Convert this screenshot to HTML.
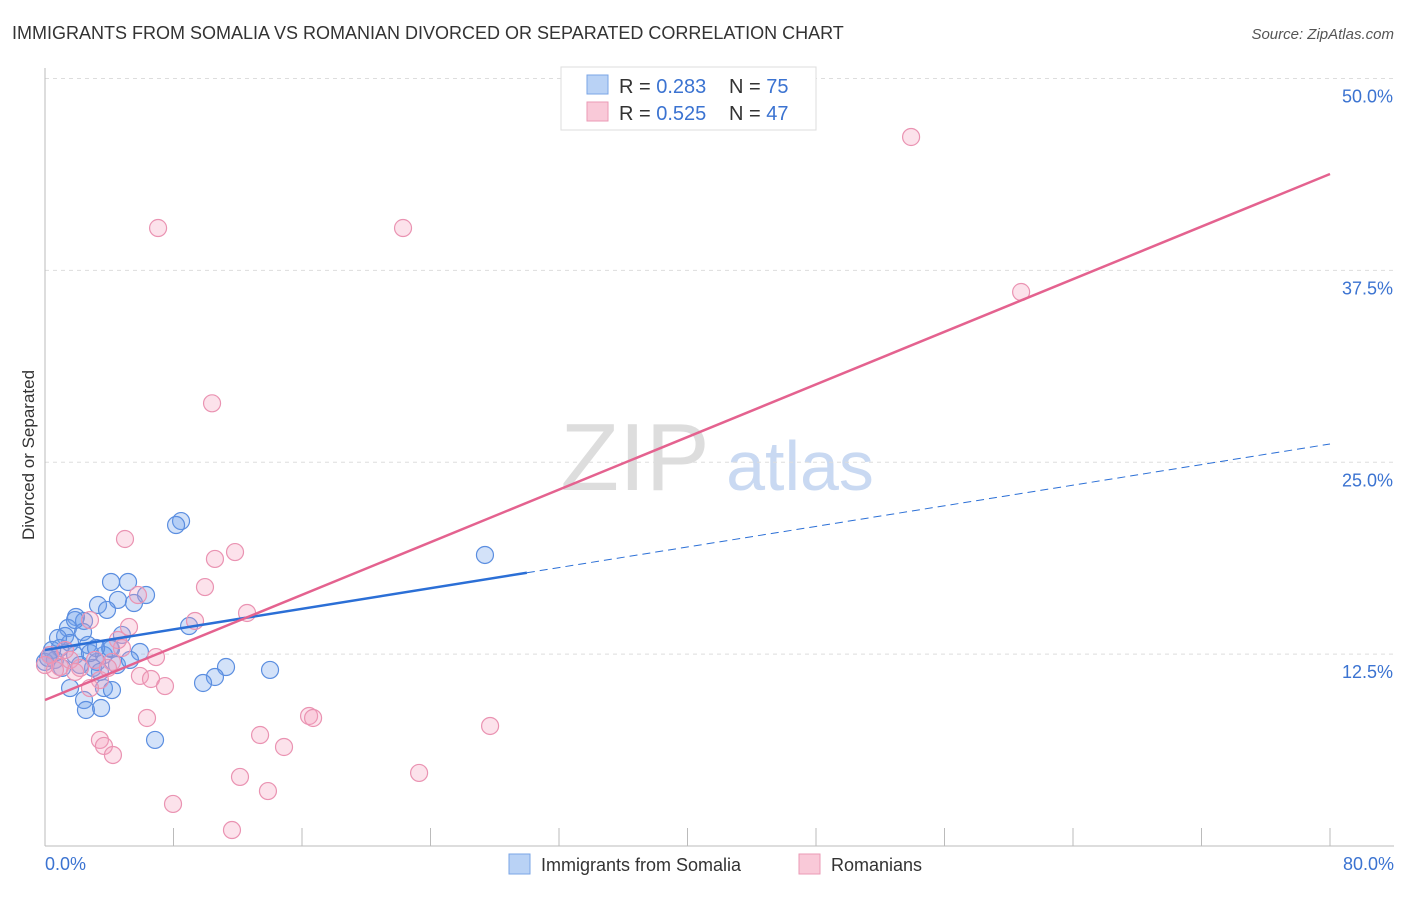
<!DOCTYPE html>
<html><head><meta charset="utf-8"><style>
body{margin:0;background:#fff;font-family:"Liberation Sans",sans-serif}
svg text{font-family:"Liberation Sans",sans-serif}
</style></head><body>
<svg id="chart" width="1406" height="892" xmlns="http://www.w3.org/2000/svg">
<text x="12" y="39" font-size="18" fill="#333">IMMIGRANTS FROM SOMALIA VS ROMANIAN DIVORCED OR SEPARATED CORRELATION CHART</text>
<text x="1394" y="39" font-size="15" fill="#555" text-anchor="end" font-style="italic">Source: ZipAtlas.com</text>
<g>
<text x="635" y="490" font-size="96" fill="#ddd" font-family="Liberation Serif" text-anchor="middle">ZIP</text>
<text x="800" y="490" font-size="70" fill="#c9d9f2" text-anchor="middle">atlas</text>
</g>
<g id="grid"></g>
<g id="axes"></g>
<g id="points"></g>
<g id="lines"></g>
<text x="34" y="455" font-size="17" fill="#333" text-anchor="middle" transform="rotate(-90 34 455)">Divorced or Separated</text>
<text x="45" y="870" font-size="18" fill="#3b73d1">0.0%</text>
<text x="1394" y="870" font-size="18" fill="#3b73d1" text-anchor="end">80.0%</text>
<g>
<rect x="561" y="67" width="255" height="63" fill="#fff" stroke="#ddd"/>
<rect x="587" y="75" width="21" height="19" fill="#b9d2f5" stroke="#7aa5e6"/>
<rect x="587" y="102" width="21" height="19" fill="#f9c9d8" stroke="#eb9ab6"/>
<text x="619" y="93" font-size="20" fill="#333">R = <tspan fill="#3b73d1">0.283</tspan></text>
<text x="729" y="93" font-size="20" fill="#333">N = <tspan fill="#3b73d1">75</tspan></text>
<text x="619" y="120" font-size="20" fill="#333">R = <tspan fill="#3b73d1">0.525</tspan></text>
<text x="729" y="120" font-size="20" fill="#333">N = <tspan fill="#3b73d1">47</tspan></text>
</g>
<g>
<rect x="509" y="854" width="21" height="20" fill="#b9d2f5" stroke="#7aa5e6"/>
<text x="541" y="871" font-size="18" fill="#333">Immigrants from Somalia</text>
<rect x="799" y="854" width="21" height="20" fill="#f9c9d8" stroke="#eb9ab6"/>
<text x="831" y="871" font-size="18" fill="#333">Romanians</text>
</g>
</svg>
<script>
const yTicks=[12.5,25,37.5,50];
const yTickLabels=["12.5%","25.0%","37.5%","50.0%"];
const xTicks=[0,8,16,24,32,40,48,56,64,72,80];
const somaliaX=[8.47,8.16,27.39,4.11,5.17,6.29,4.54,3.30,3.86,5.54,1.93,2.43,1.43,1.25,2.37,8.97,4.79,2.68,5.91,4.11,3.67,0.93,0.31,0.62,1.87,3.24,4.48,11.27,14.01,10.58,9.84,1.56,3.67,2.43,2.55,3.49,6.85,2.99,3.42,1.06,0,0.44,2.18,4.05,1.56,2.80,0.81,0.19,1.87,3.18,4.17,5.29];
const somaliaY=[21.17,20.91,18.96,17.20,17.20,16.35,16.03,15.70,15.38,15.83,14.92,14.66,14.20,13.68,13.94,14.33,13.75,13.10,12.64,12.83,12.44,12.90,12.44,12.12,12.44,11.99,11.79,11.66,11.47,11.01,10.62,10.29,10.29,9.51,8.86,8.99,6.91,11.60,11.34,11.60,11.99,12.77,11.79,12.90,13.23,12.57,13.55,12.25,14.72,12.90,10.16,12.12];
const romX=[53.92,7.04,22.29,60.77,10.40,4.98,11.83,10.58,9.96,5.79,12.58,9.34,5.23,2.80,4.79,6.91,0.31,0,0.93,2.18,3.42,5.91,6.60,7.47,2.80,27.71,16.44,16.69,6.35,13.39,14.88,3.42,3.67,4.23,12.14,23.29,13.88,7.97,11.64,1.56,4.17,0.62,3.11,4.54,3.92,1.87,1.25];
const romY=[46.19,40.26,40.26,36.09,28.84,20.00,19.15,18.70,16.87,16.35,15.18,14.66,14.27,14.72,12.90,12.31,12.44,11.79,11.66,11.60,10.81,11.08,10.88,10.42,10.29,7.82,8.47,8.34,8.34,7.23,6.45,6.91,6.52,5.93,4.50,4.76,3.58,2.74,1.04,12.12,11.99,11.47,12.12,13.42,11.60,11.34,12.77];
const somaliaTrend=[12.77,26.19]; // at x=0 and x=80
const somaliaSolidEnd=30;
const romTrend=[9.51,43.78];

const NS="http://www.w3.org/2000/svg";
const sx=v=>45+v/80*1285;
const sy=v=>846-v*15.35;
function mk(tag,attrs,parent){const e=document.createElementNS(NS,tag);for(const k in attrs)e.setAttribute(k,attrs[k]);parent.appendChild(e);return e;}
const grid=document.getElementById('grid'),axes=document.getElementById('axes'),pts=document.getElementById('points'),lines=document.getElementById('lines');
yTicks.forEach((t,i)=>{
  const l=mk('line',{x1:45,x2:1394,y1:sy(t),y2:sy(t),stroke:'#ddd','stroke-dasharray':'4 4'},grid);
  
  
  const tx=mk('text',{x:1393,y:sy(t)+24,'font-size':18,fill:'#3b73d1','text-anchor':'end'},axes);
  tx.textContent=yTickLabels[i];
  
  
});
const ya=mk('line',{x1:45,x2:45,y1:68,y2:846,stroke:'#bbb'},axes);


const xa=mk('line',{x1:45,x2:1394,y1:846,y2:846,stroke:'#bbb'},axes);


xTicks.forEach(t=>{
  const l=mk('line',{x1:sx(t),x2:sx(t),y1:846,y2:828,stroke:'#bbb'},axes);
  
  
});
somaliaX.forEach((x,i)=>{
  const c=mk('circle',{cx:sx(x),cy:sy(somaliaY[i]),r:8.5,fill:'rgba(110,160,235,0.3)',stroke:'#5b8ee0','stroke-width':1.2},pts);
  
  
});
romX.forEach((x,i)=>{
  const c=mk('circle',{cx:sx(x),cy:sy(romY[i]),r:8.5,fill:'rgba(245,160,190,0.3)',stroke:'#ea93b2','stroke-width':1.2},pts);
  
  
});
const sAt=x=>somaliaTrend[0]+(somaliaTrend[1]-somaliaTrend[0])*x/80;
const l1=mk('line',{x1:sx(0),y1:sy(sAt(0)),x2:sx(somaliaSolidEnd),y2:sy(sAt(somaliaSolidEnd)),stroke:'#2b6fd6','stroke-width':2.5},lines);


const l2=mk('line',{x1:sx(somaliaSolidEnd),y1:sy(sAt(somaliaSolidEnd)),x2:sx(80),y2:sy(sAt(80)),stroke:'#2b6fd6','stroke-width':1,'stroke-dasharray':'8 5'},lines);


const l3=mk('line',{x1:sx(0),y1:sy(romTrend[0]),x2:sx(80),y2:sy(romTrend[1]),stroke:'#e4628f','stroke-width':2.5},lines);


</script>
</body></html>
